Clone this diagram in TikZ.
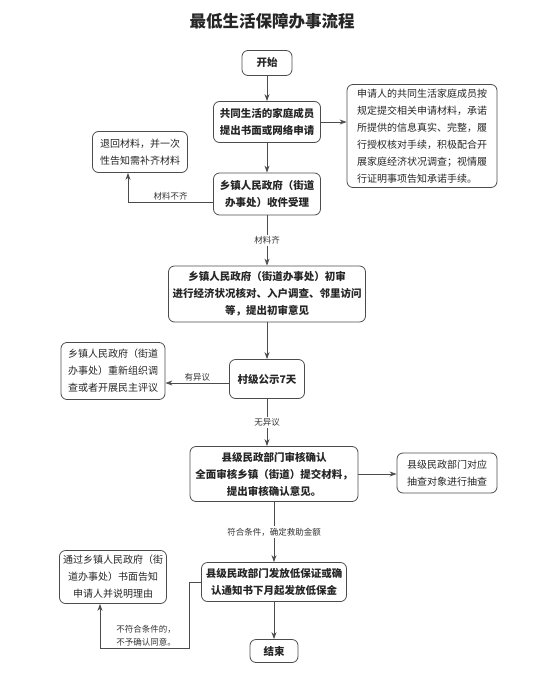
\documentclass[tikz,border=0pt]{standalone}
\usepackage{fontspec}
\setmainfont{Noto Sans CJK SC}
\usepackage{tikz}
\usetikzlibrary{positioning,arrows.meta,calc}

\begin{document}
\begin{tikzpicture}[
  x=1pt, y=-1pt,
  >={Stealth[length=7pt,width=5pt]},
  font=\fontsize{10.5}{17}\selectfont,
  box/.style={draw=black!70, rounded corners=6pt, align=center, inner sep=2pt,
              line width=0.8pt, text=black!85},
  mainbox/.style={box, font=\fontsize{10.5}{17}\selectfont\bfseries},
  sidebox/.style={box, font=\fontsize{10}{17}\selectfont},
  flow/.style={->, line width=0.8pt, draw=black!70},
  lbl/.style={font=\fontsize{8.5}{13}\selectfont, text=black!80, inner sep=1.5pt},
]
\useasboundingbox (0,0) rectangle (547,682);
\node[font=\fontsize{16.5}{20}\selectfont\bfseries, text=black!85] (title) at (272,21) {最低生活保障办事流程};

% main column
\node[mainbox, minimum width=50, minimum height=25] (start) at (267,63) {开始};
\node[mainbox, minimum width=107, minimum height=41] (apply) at (267,122) {共同生活的家庭成员\\提出书面或网络申请};
\node[mainbox, minimum width=107, minimum height=42] (accept) at (267,194) {乡镇人民政府（街道\\办事处）收件受理};
\node[mainbox, minimum width=197, minimum height=56] (prelim) at (267,294) {乡镇人民政府（街道办事处）初审\\进行经济状况核对、入户调查、邻里访问\\等，提出初审意见};
\node[mainbox, minimum width=75, minimum height=39] (publicity) at (267,379) {村级公示7天};
\node[mainbox, minimum width=168, minimum height=55] (county) at (274,474) {县级民政部门审核确认\\全面审核乡镇（街道）提交材料，\\提出审核确认意见。};
\node[mainbox, minimum width=145, minimum height=39] (issue) at (274,582) {县级民政部门发放低保证或确\\认通知书下月起发放低保金};
\node[mainbox, minimum width=48, minimum height=23] (finish) at (274,651) {结束};

% side boxes
\node[sidebox, minimum width=150, minimum height=103, align=left] (commit) at (422,136) {申请人的共同生活家庭成员按\\规定提交相关申请材料，承诺\\所提供的信息真实、完整，履\\行授权核对手续，积极配合开\\展家庭经济状况调查；视情履\\行证明事项告知承诺手续。};
\node[sidebox, minimum width=95, minimum height=41] (returnmat) at (140,152) {退回材料，并一次\\性告知需补齐材料};
\node[sidebox, minimum width=104, minimum height=57] (reinvest) at (113,371) {乡镇人民政府（街道\\办事处）重新组织调\\查或者开展民主评议};
\node[sidebox, minimum width=100, minimum height=40] (spotcheck) at (447,473) {县级民政部门对应\\抽查对象进行抽查};
\node[sidebox, minimum width=107, minimum height=53] (notify) at (113,577) {通过乡镇人民政府（街\\道办事处）书面告知\\申请人并说明理由};

% connectors
\draw[flow] (start) -- (apply);
\draw[flow] (apply.east) -- (apply.east -| commit.west);
\draw[flow] (apply) -- (accept);
\draw[flow] ([yshift=-8pt]accept.west) -| node[lbl, above, pos=0.25]{材料不齐} ([xshift=-12pt]returnmat.south);
\draw[flow] (accept) -- node[lbl, fill=white]{材料齐} (prelim);
\draw[flow] (prelim) -- (publicity);
\draw[flow] ([yshift=-4pt]publicity.west) -- node[lbl, above]{有异议} ([yshift=-4pt]publicity.west -| reinvest.east);
\draw[flow] (publicity.south) -- node[lbl, fill=white]{无异议} (publicity.south |- county.north);
\draw[flow] (county.east) -- (county.east -| spotcheck.west);
\draw[flow] (county) -- node[lbl, fill=white]{符合条件，确定救助金额} (issue);
\draw[flow] (issue.west) -- ++(-12,0) -- ++(0,66) -| ([xshift=-13pt]notify.south);
\node[lbl, align=left] (rejectlbl) at (146,636) {不符合条件的，\\不予确认同意。};
\draw[flow] (issue) -- (finish);
\end{tikzpicture}
\end{document}
